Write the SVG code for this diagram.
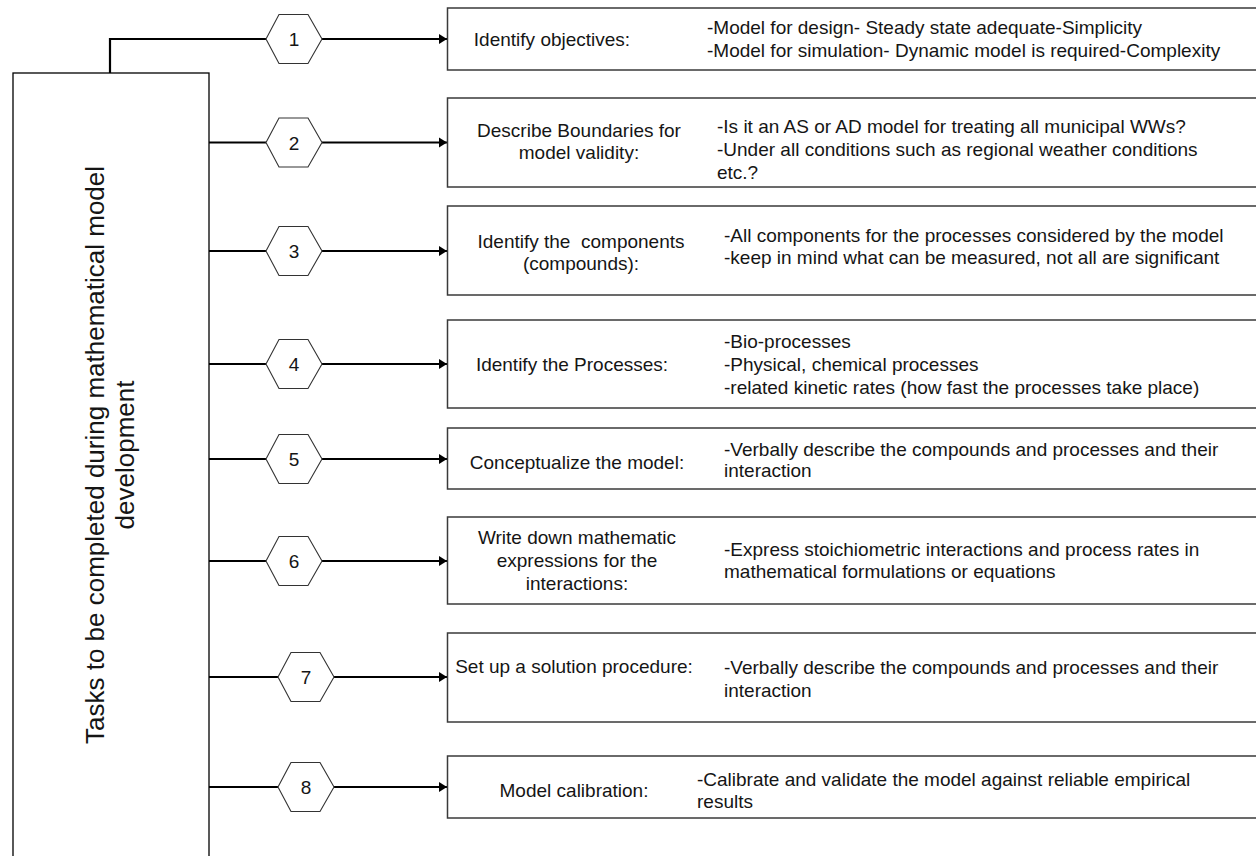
<svg xmlns="http://www.w3.org/2000/svg" width="1256" height="856" viewBox="0 0 1256 856">
<defs>
<style>
.bg{fill:#ffffff}
.main{fill:#ffffff;stroke:#000000;stroke-width:1.3}
.box{fill:#ffffff;stroke:#3a3a3a;stroke-width:1.5}
.hex{fill:#ffffff;stroke:#333333;stroke-width:1.1}
.conn{fill:none;stroke:#000000;stroke-width:2.2}
.t{font-family:"Liberation Sans",Arial,sans-serif;font-size:19px;fill:#151515}
.c{text-anchor:middle}
.num{font-family:"Liberation Sans",Arial,sans-serif;font-size:19px;fill:#151515;text-anchor:middle}
.big{font-family:"Liberation Sans",Arial,sans-serif;font-size:26px;fill:#151515;text-anchor:middle}
</style>
<marker id="arr" markerUnits="userSpaceOnUse" markerWidth="9" markerHeight="11" refX="8" refY="5.5" orient="auto">
<path d="M0,0.5 L8,5.5 L0,10.5 z" fill="#000000"/>
</marker>
<polygon id="hexshape" points="-28,0 -15,-24.5 14,-24.5 28,0 14,24.5 -15,24.5"/>
</defs>
<rect class="bg" x="0" y="0" width="1256" height="856"/>

<g id="connectors">
<path class="conn" d="M110,73 V39 H266"/>
<path class="conn" d="M322,39 H447" marker-end="url(#arr)"/>
<path class="conn" d="M209,142.5 H266"/>
<path class="conn" d="M322,142.5 H447" marker-end="url(#arr)"/>
<path class="conn" d="M209,251 H266"/>
<path class="conn" d="M322,251 H447" marker-end="url(#arr)"/>
<path class="conn" d="M209,364 H266"/>
<path class="conn" d="M322,364 H447" marker-end="url(#arr)"/>
<path class="conn" d="M209,459 H266"/>
<path class="conn" d="M322,459 H447" marker-end="url(#arr)"/>
<path class="conn" d="M209,561 H266"/>
<path class="conn" d="M322,561 H447" marker-end="url(#arr)"/>
<path class="conn" d="M209,677 H278"/>
<path class="conn" d="M334,677 H447" marker-end="url(#arr)"/>
<path class="conn" d="M209,787 H278"/>
<path class="conn" d="M334,787 H447" marker-end="url(#arr)"/>
</g>

<g id="main-task">
<rect class="main" x="13" y="73" width="196" height="800"/>
<text class="big" transform="translate(103.5,455) rotate(-90)">Tasks to be completed during mathematical model<tspan x="0" dy="30.5">development</tspan></text>
</g>

<g id="hex1"><use href="#hexshape" class="hex" x="294" y="39"/><text class="num" x="294" y="46">1</text></g>
<g id="hex2"><use href="#hexshape" class="hex" x="294" y="142.5"/><text class="num" x="294" y="149.5">2</text></g>
<g id="hex3"><use href="#hexshape" class="hex" x="294" y="251"/><text class="num" x="294" y="258">3</text></g>
<g id="hex4"><use href="#hexshape" class="hex" x="294" y="364"/><text class="num" x="294" y="371">4</text></g>
<g id="hex5"><use href="#hexshape" class="hex" x="294" y="459"/><text class="num" x="294" y="466">5</text></g>
<g id="hex6"><use href="#hexshape" class="hex" x="294" y="561"/><text class="num" x="294" y="568">6</text></g>
<g id="hex7"><use href="#hexshape" class="hex" x="306" y="677"/><text class="num" x="306" y="684">7</text></g>
<g id="hex8"><use href="#hexshape" class="hex" x="306" y="787"/><text class="num" x="306" y="794">8</text></g>

<g id="box1">
<rect class="box" x="447.5" y="8" width="820" height="62"/>
<text class="t c" x="552" y="46">Identify objectives:</text>
<text class="t" x="707" y="34">-Model for design- Steady state adequate-Simplicity</text>
<text class="t" x="707" y="57">-Model for simulation- Dynamic model is required-Complexity</text>
</g>

<g id="box2">
<rect class="box" x="447.5" y="98" width="820" height="89"/>
<text class="t c" x="579" y="137">Describe Boundaries for</text>
<text class="t c" x="579" y="159">model validity:</text>
<text class="t" x="717" y="133">-Is it an AS or AD model for treating all municipal WWs?</text>
<text class="t" x="717" y="156">-Under all conditions such as regional weather conditions</text>
<text class="t" x="717" y="179">etc.?</text>
</g>

<g id="box3">
<rect class="box" x="447.5" y="206" width="820" height="89"/>
<text class="t c" x="581" y="248" style="white-space:pre">Identify the  components</text>
<text class="t c" x="581" y="270">(compounds):</text>
<text class="t" x="724" y="242">-All components for the processes considered by the model</text>
<text class="t" x="724" y="264">-keep in mind what can be measured, not all are significant</text>
</g>

<g id="box4">
<rect class="box" x="447.5" y="320" width="820" height="88"/>
<text class="t c" x="572" y="371">Identify the Processes:</text>
<text class="t" x="724" y="348">-Bio-processes</text>
<text class="t" x="724" y="371">-Physical, chemical processes</text>
<text class="t" x="724" y="394">-related kinetic rates (how fast the processes take place)</text>
</g>

<g id="box5">
<rect class="box" x="447.5" y="428" width="820" height="61"/>
<text class="t c" x="577" y="469">Conceptualize the model:</text>
<text class="t" x="724" y="456">-Verbally describe the compounds and processes and their</text>
<text class="t" x="724" y="477">interaction</text>
</g>

<g id="box6">
<rect class="box" x="447.5" y="517" width="820" height="87"/>
<text class="t c" x="577" y="544">Write down mathematic</text>
<text class="t c" x="577" y="567">expressions for the</text>
<text class="t c" x="577" y="590">interactions:</text>
<text class="t" x="724" y="556">-Express stoichiometric interactions and process rates in</text>
<text class="t" x="724" y="578">mathematical formulations or equations</text>
</g>

<g id="box7">
<rect class="box" x="447.5" y="633" width="820" height="89"/>
<text class="t c" x="574" y="673">Set up a solution procedure:</text>
<text class="t" x="724" y="674">-Verbally describe the compounds and processes and their</text>
<text class="t" x="724" y="697">interaction</text>
</g>

<g id="box8">
<rect class="box" x="447.5" y="756" width="820" height="62"/>
<text class="t c" x="574" y="797">Model calibration:</text>
<text class="t" x="697" y="786">-Calibrate and validate the model against reliable empirical</text>
<text class="t" x="697" y="808">results</text>
</g>
</svg>
